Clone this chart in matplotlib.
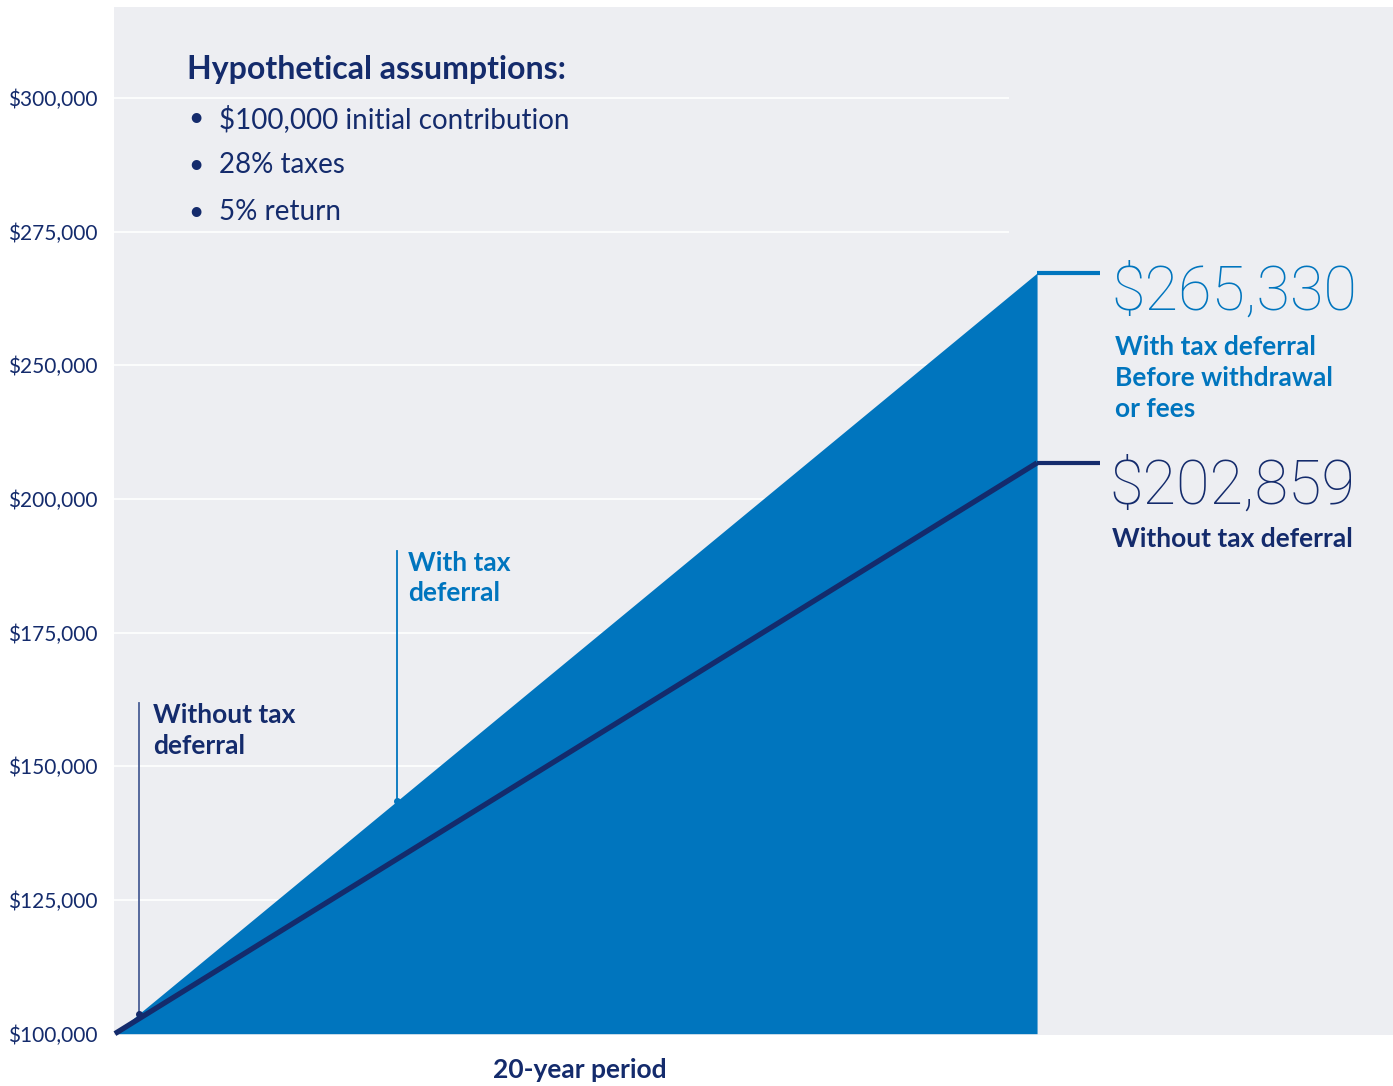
import matplotlib.pyplot as plt

# chart values are in grid steps (one step per labelled gridline)
years = [0, 20]
with_deferral = [0, 5.69]
without_deferral = [0, 4.27]

tick_steps = [0, 1, 2, 3, 4, 5, 6, 7]
tick_labels = ["$100,000", "$125,000", "$150,000", "$175,000",
               "$200,000", "$250,000", "$275,000", "$300,000"]

assumptions = ["$100,000 initial contribution", "28% taxes", "5% return"]
end_with = "$265,330"
end_without = "$202,859"

BLUE = "#0075be"
NAVY = "#142b6c"
BG = "#edeef2"

plt.rcParams['font.family'] = ['Lato', 'DejaVu Sans']

fig = plt.figure(figsize=(13.93, 10.86), dpi=100)
ax = fig.add_axes([114 / 1393, 51 / 1086, 1279 / 1393, 1028 / 1086])
ax.set_facecolor(BG)
ax.set_xlim(-0.02, 27.72)
ax.set_ylim(-0.01, 7.68)

for s in ax.spines.values():
    s.set_visible(False)

# gridlines
ax.hlines(tick_steps[1:], -0.02, 19.4, color="white", lw=1.2, zorder=1)

# area and line
ax.fill_between(years, 0, with_deferral, color=BLUE, lw=0, zorder=2)
ax.plot(years, without_deferral, color=NAVY, lw=3.8, zorder=3,
        solid_capstyle="butt", clip_on=False)

# end brackets
ax.plot([20, 21.37], [with_deferral[-1]] * 2, color=BLUE, lw=3, zorder=3,
        solid_capstyle="butt")
ax.plot([20, 21.37], [without_deferral[-1]] * 2, color=NAVY, lw=3, zorder=3,
        solid_capstyle="butt")

big = dict(fontsize=44, family=["Roboto", "Lato"], fontweight="light",
           va="center", ha="left")
ax.text(21.62, 5.54, end_with, color=BLUE, **big)
ax.text(21.7, 5.23, "With tax deferral\nBefore withdrawal\nor fees", color=BLUE,
        fontsize=19, fontweight="bold", va="top", ha="left", linespacing=1.35)
ax.text(21.57, 4.09, end_without, color=NAVY, **big)
ax.text(21.62, 3.70, "Without tax deferral", color=NAVY, fontsize=19,
        fontweight="bold", va="center", ha="left")

# pointers
x1 = 0.52
y1 = with_deferral[-1] * x1 / 20
ax.plot([x1, x1], [y1, 2.47], color="#4a5f96", lw=1.3, zorder=4)
ax.plot(x1, y1, "o", color=NAVY, ms=4, zorder=4)
ax.text(0.82, 2.47, "Without tax\ndeferral", color=NAVY, fontsize=19,
        fontweight="bold", va="top", ha="left", linespacing=1.32)

x2 = 6.12
y2 = with_deferral[-1] * x2 / 20
ax.plot([x2, x2], [y2, 3.61], color=BLUE, lw=1.3, zorder=4)
ax.plot(x2, y2, "o", color=BLUE, ms=4, zorder=4)
ax.text(6.36, 3.61, "With tax\ndeferral", color=BLUE, fontsize=19,
        fontweight="bold", va="top", ha="left", linespacing=1.32)

# assumptions block
ax.text(1.56, 7.215, "Hypothetical assumptions:", color=NAVY, fontsize=23,
        fontweight="bold", va="center", ha="left")
for i, item in enumerate(assumptions):
    y = 6.845 - i * 0.35
    ax.text(1.6, y, "\u2022", color=NAVY, fontsize=19, va="center", ha="left")
    ax.text(2.26, y, item, color=NAVY, fontsize=20, va="center", ha="left")

# axes ticks
ax.set_yticks(tick_steps)
ax.set_yticklabels(tick_labels, color=NAVY, fontsize=15)
for lab in ax.get_yticklabels():
    lab.set_ha("left")
ax.tick_params(axis="y", length=0, pad=76)
ax.set_xticks([])
ax.set_xlabel("20-year period", color=NAVY, fontsize=19, fontweight="bold")
ax.xaxis.set_label_coords(10.1 / 27.74, -0.022)
ax.xaxis.label.set_va("top")

fig.savefig("out.png", dpi=100)
